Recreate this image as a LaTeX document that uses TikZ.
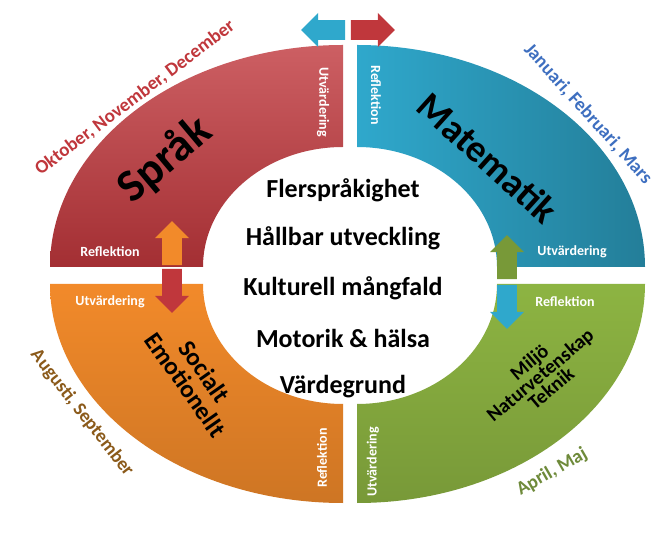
\documentclass[tikz,border=0pt]{standalone}
\usepackage{fontspec}
\setmainfont{Carlito}
\usetikzlibrary{shapes.arrows}
\definecolor{cred}{HTML}{C0373C}
\definecolor{cblue}{HTML}{2FA8CC}
\definecolor{corange}{HTML}{F28A2A}
\definecolor{cgreen}{HTML}{8DB442}
\definecolor{cbrown}{HTML}{8B5A1A}
\definecolor{cgreenT}{HTML}{6E8A3A}
\definecolor{cblueT}{HTML}{3E6FC0}
\begin{document}
\begin{tikzpicture}[x=1pt,y=1pt,
  small/.style={font=\bfseries\fontsize{14}{14}\selectfont,text=white},
  big/.style={font=\bfseries\fontsize{#1}{#1}\selectfont,align=center},
  center/.style={font=\bfseries\fontsize{26}{26}\selectfont},
  month/.style={font=\bfseries\fontsize{19}{19}\selectfont},
  arr/.style={single arrow,minimum width=34,single arrow head extend=6,inner sep=8pt,minimum height=44,draw=none}]
\useasboundingbox (0,0) rectangle (658,538);
\fill[white] (0,0) rectangle (658,538);
% quadrants
\shade[top color=cred!80!white,bottom color=cred!85!black] (50,271) arc[start angle=180,end angle=90,x radius=293,y radius=222] -- (343,391) arc[start angle=90,end angle=180,x radius=140,y radius=120] -- cycle;
\shade[left color=cblue,right color=cblue!75!black] (357,493) arc[start angle=90,end angle=0,x radius=288,y radius=222] -- (497,271) arc[start angle=0,end angle=90,x radius=140,y radius=120] -- cycle;
\shade[top color=corange,bottom color=corange!85!black] (50,254) arc[start angle=180,end angle=270,x radius=293,y radius=219] -- (343,134) arc[start angle=270,end angle=180,x radius=140,y radius=120] -- cycle;
\shade[top color=cgreen,bottom color=cgreen!85!black] (357,35) arc[start angle=270,end angle=360,x radius=288,y radius=219] -- (497,254) arc[start angle=0,end angle=-90,x radius=140,y radius=120] -- cycle;
% arrows
\node[arr,fill=cblue,shape border rotate=180] (ta) at (328,508) {};
\node[arr,fill=cred] (tb) at (368,508) {};
\node[arr,fill=corange,shape border rotate=90] (la) at (172,290) {};
\node[arr,fill=cred,shape border rotate=270] (lb) at (172,252) {};
\node[arr,fill=cgreen!85!black,shape border rotate=90] (ra) at (507,276) {};
\node[arr,fill=cblue,shape border rotate=270] (rb) at (507,236) {};
% small labels
\node[small,rotate=-90] (u1) at (323,436) {Utvärdering};
\node[small,rotate=-90] (r1) at (376,443) {Reflektion};
\node[small] (r2) at (110,286) {Reflektion};
\node[small] (u2) at (572,286) {Utvärdering};
\node[small] (u3) at (110,236) {Utvärdering};
\node[small] (r3) at (565,236) {Reflektion};
\node[small,rotate=90] (r4) at (322,80) {Reflektion};
\node[small,rotate=90] (u4) at (373,76) {Utvärdering};
% big labels
\node[big=46,rotate=40] (sp) at (165,378) {Språk};
\node[big=38,rotate=-42] (ma) at (488,380) {Matematik};
\node[big=25,rotate=-55] (so) at (195,160) {Socialt\\[-2pt]Emotionellt};
\node[big=20,rotate=40] (mi) at (540,163) {Miljö\\[-3pt]Naturvetenskap\\[-3pt]Teknik};
% centre
\node[center] (c1) at (343,348) {Flerspråkighet};
\node[center] (c2) at (343,300) {Hållbar utveckling};
\node[center] (c3) at (343,250) {Kulturell mångfald};
\node[center] (c4) at (343,200) {Motorik \& hälsa};
\node[center] (c5) at (343,151) {Värdegrund};
% months
\node[month,text=cred,rotate=37] (m1) at (135,440) {Oktober, November, December};
\node[month,text=cblueT,rotate=-48] (m2) at (588,424) {Januari, Februari, Mars};
\node[month,text=cbrown,rotate=-52] (m3) at (82,125) {Augusti, September};
\node[month,text=cgreenT,rotate=30] (m4) at (552,66) {April, Maj};
\end{tikzpicture}
\end{document}
